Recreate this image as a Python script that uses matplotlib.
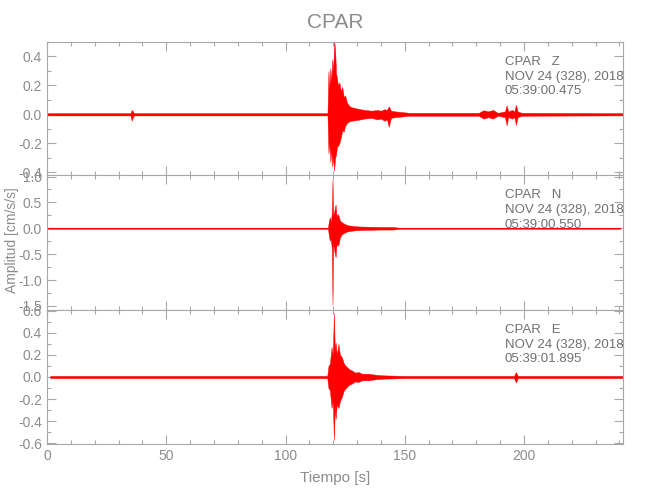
import matplotlib
matplotlib.use("Agg")
import matplotlib.pyplot as plt
from matplotlib.ticker import MultipleLocator

plt.rcParams['font.family'] = ['Liberation Sans Narrow', 'Liberation Sans', 'DejaVu Sans']

# envelope of each trace (upper / lower peaks), cm/s/s
z_t = [0, 35.0, 35.5, 36.0, 36.5, 117.6, 118.0, 118.4, 118.8, 119.2,
       119.6, 120.0, 120.4, 120.8, 121.2, 121.6, 122.0, 122.6, 123.2, 123.8,
       124.4, 125.0, 125.8, 126.6, 127.5, 130, 133, 136, 138.5, 140,
       141.5, 142.5, 143.3, 144.2, 146, 149, 152, 181, 183, 185,
       187, 189, 192.0, 192.7, 193.4, 195, 196.0, 196.6, 197.3, 199,
       241.5]
z_up = [0.008, 0.008, 0.03, 0.02, 0.008, 0.008, 0.30, 0.18, 0.32, 0.22,
        0.38, 0.30, 0.51, 0.45, 0.28, 0.25, 0.20, 0.22, 0.16, 0.19,
        0.12, 0.13, 0.08, 0.06, 0.05, 0.04, 0.03, 0.025, 0.03, 0.025,
        0.035, 0.03, 0.055, 0.025, 0.02, 0.015, 0.01, 0.01, 0.028, 0.02,
        0.03, 0.01, 0.02, 0.062, 0.02, 0.03, 0.02, 0.066, 0.02, 0.01,
        0.008]
z_lo = [-0.008, -0.008, -0.045, -0.02, -0.008, -0.008, -0.27, -0.20, -0.33, -0.25,
        -0.36, -0.30, -0.39, -0.30, -0.28, -0.22, -0.22, -0.20, -0.16, -0.11,
        -0.12, -0.08, -0.06, -0.05, -0.045, -0.04, -0.03, -0.025, -0.035, -0.03,
        -0.045, -0.035, -0.087, -0.025, -0.02, -0.015, -0.01, -0.01, -0.03, -0.02,
        -0.03, -0.01, -0.02, -0.076, -0.02, -0.03, -0.02, -0.074, -0.02, -0.01,
        -0.008]

n_t = [0, 117.8, 118.2, 118.6, 119.0, 119.4, 119.7, 120.0, 120.5, 121.0,
       121.4, 121.8, 122.3, 122.8, 123.5, 124.2, 125.0, 126.0, 127.5, 129,
       131, 135, 140, 145, 148, 240.3]
n_up = [0.01, 0.01, 0.15, 0.21, 0.12, 0.30, 0.95, 0.25, 0.35, 0.46,
        0.22, 0.28, 0.24, 0.15, 0.12, 0.10, 0.08, 0.06, 0.05, 0.04,
        0.035, 0.03, 0.025, 0.025, 0.01, 0.01]
n_lo = [-0.01, -0.01, -0.15, -0.24, -0.20, -0.40, -1.48, -0.30, -0.45, -0.56,
        -0.30, -0.34, -0.30, -0.18, -0.12, -0.10, -0.08, -0.06, -0.05, -0.04,
        -0.035, -0.03, -0.025, -0.025, -0.01, -0.01]

e_t = [1.4, 117.5, 118.0, 118.6, 119.3, 119.8, 120.3, 120.7, 121.0, 121.5,
       122.2, 122.8, 123.6, 124.5, 125.7, 126.7, 127.8, 129.2, 130.6, 132,
       134.8, 138, 141, 150, 195.8, 196.6, 197.4, 241.5]
e_up = [0.01, 0.01, 0.10, 0.12, 0.27, 0.20, 0.58, 0.22, 0.31, 0.20,
        0.30, 0.20, 0.18, 0.12, 0.09, 0.07, 0.06, 0.04, 0.045, 0.03,
        0.03, 0.02, 0.015, 0.01, 0.01, 0.045, 0.01, 0.01]
e_lo = [-0.01, -0.01, -0.10, -0.12, -0.28, -0.22, -0.57, -0.25, -0.38, -0.25,
        -0.28, -0.22, -0.18, -0.12, -0.09, -0.07, -0.06, -0.04, -0.045, -0.03,
        -0.03, -0.02, -0.015, -0.01, -0.01, -0.05, -0.01, -0.01]

channels = ["Z", "N", "E"]
start_times = ["05:39:00.475", "05:39:00.550", "05:39:01.895"]

grey = '#8c8c8c'
axis_grey = '#a8a8a8'

fig = plt.figure(figsize=(6.5, 5), dpi=100)

# panel boxes in pixels (top, bottom)
boxes = [(42, 175), (175, 310), (310, 444)]
ylims = [(-0.42, 0.50), (-1.58, 1.03), (-0.605, 0.605)]
ymaj = [0.2, 0.5, 0.2]
ymin = [0.1, 0.25, 0.1]
traces = [(z_t, z_up, z_lo), (n_t, n_up, n_lo), (e_t, e_up, e_lo)]

axes = []
for i in range(3):
    top, bot = boxes[i]
    ax = fig.add_axes([47 / 650, 1 - bot / 500, 576 / 650, (bot - top) / 500])
    t, up, lo = traces[i]
    ax.fill_between(t, lo, up, color='red', lw=0.3, edgecolor='red')
    ax.plot(t, [0] * len(t), color='red', lw=0.8)
    ax.set_xlim(0, 241.5)
    ax.set_ylim(*ylims[i])
    ax.xaxis.set_major_locator(MultipleLocator(50))
    ax.xaxis.set_minor_locator(MultipleLocator(10))
    ax.yaxis.set_major_locator(MultipleLocator(ymaj[i]))
    ax.yaxis.set_minor_locator(MultipleLocator(ymin[i]))
    ax.yaxis.set_major_formatter(plt.FormatStrFormatter('%.1f'))
    ax.tick_params(which='both', direction='in', top=True, right=True,
                   color=axis_grey, labelcolor=grey, labelsize=10, width=0.8)
    ax.tick_params(which='major', length=6.5)
    ax.tick_params(which='minor', length=3.2)
    for s in ax.spines.values():
        s.set_color(axis_grey)
        s.set_linewidth(0.8)
    if i < 2:
        ax.tick_params(labelbottom=False)
    ax.text(0.795, 0.895, "CPAR   " + channels[i] + "\nNOV 24 (328), 2018\n" + start_times[i],
            transform=ax.transAxes, ha='left', va='top', fontsize=9.5,
            color='#707070', linespacing=1.3)
    axes.append(ax)

fig.text(335 / 650, 1 - 23 / 500, "CPAR", ha='center', va='center',
         fontsize=15, color=grey)
axes[2].set_xlabel("Tiempo [s]", color=grey, fontsize=11, labelpad=6)
fig.text(12 / 650, 1 - 240 / 500, "Amplitud [cm/s/s]", rotation=90,
         ha='center', va='center', fontsize=10, color=grey)

fig.savefig("out.png", dpi=100)
